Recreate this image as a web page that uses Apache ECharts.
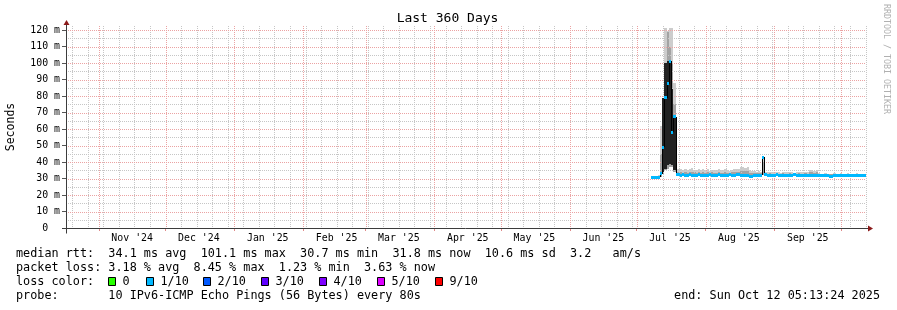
<!DOCTYPE html>
<html><head><meta charset="utf-8">
<script src="https://cdn.jsdelivr.net/npm/echarts@6/dist/echarts.min.js"></script>
<style>html,body{margin:0;padding:0;background:#fff}#c{width:897px;height:310px}</style>
</head><body><div id="c"></div>
<script>
// ---------------- data ----------------
const endTime = Date.UTC(2025, 9, 12, 5, 13, 24);
const DAY = 86400000;
const startTime = endTime - 360 * DAY;
const firstSample = Date.UTC(2025, 6, 7, 12); // one consolidated sample per day from Jul 7 2025

const median = [
  30.7, 30.7, 30.8, 30.9, 33.0, 49.0, 79.0, 87.5, 101.1, 58.0,
  67.5, 32.4, 32.2, 32.1, 32.2, 32.0, 32.1, 32.3, 32.1, 32.0,
  32.1, 32.2, 32.0, 32.1, 32.1, 32.0, 32.2, 32.1, 32.0, 32.1,
  32.2, 32.0, 32.1, 32.0, 32.1, 32.2, 32.0, 32.1, 32.3, 32.2,
  32.0, 32.1, 32.0, 32.1, 31.4, 31.5, 32.0, 32.1, 32.0, 32.0,
  43.0, 32.3, 32.1, 32.0, 32.1, 32.0, 32.2, 32.1, 32.0, 32.1,
  32.0, 32.1, 32.0, 32.0, 32.6, 32.0, 32.1, 32.0, 32.0, 32.1,
  32.0, 32.1, 32.0, 32.1, 32.0, 31.9, 31.9, 32.0, 31.9, 31.9,
  31.4, 31.5, 31.9, 32.0, 31.9, 31.9, 32.0, 31.9, 31.9, 31.9,
  32.0, 31.9, 31.9, 31.9, 32.0, 31.9, 31.9, 31.8
];
const smokeLow = [
  30.3, 30.3, 30.4, 30.5, 31.0, 33.0, 35.0, 36.0, 37.0, 37.0,
  34.0, 31.7, 31.5, 31.4, 31.5, 31.3, 31.4, 31.6, 31.4, 31.3,
  31.4, 31.5, 31.3, 31.4, 31.4, 31.3, 31.5, 31.4, 31.3, 31.4,
  31.5, 31.3, 31.4, 31.3, 31.4, 31.5, 31.3, 31.4, 31.6, 31.5,
  31.3, 31.4, 31.3, 31.4, 30.8, 30.9, 31.3, 31.4, 31.3, 31.3,
  32.0, 31.6, 31.4, 31.3, 31.4, 31.3, 31.5, 31.4, 31.3, 31.4,
  31.3, 31.4, 31.3, 31.3, 31.8, 31.3, 31.4, 31.3, 31.3, 31.4,
  31.3, 31.4, 31.3, 31.4, 31.3, 31.2, 31.2, 31.3, 31.2, 31.2,
  30.8, 30.9, 31.2, 31.3, 31.2, 31.2, 31.3, 31.2, 31.2, 31.2,
  31.3, 31.2, 31.2, 31.2, 31.3, 31.2, 31.2, 31.1
];
const smokeInner = [
  30.9, 30.9, 31.0, 31.3, 45.0, 60.0, 100.0, 119.0, 110.0, 100.0,
  75.0, 34.0, 33.8, 34.0, 33.6, 33.9, 33.5, 33.8, 34.2, 33.7,
  33.5, 33.9, 33.6, 34.0, 33.5, 33.7, 33.4, 33.7, 33.6, 33.5,
  33.8, 33.4, 33.6, 33.9, 33.5, 33.3, 33.7, 34.0, 34.0, 34.2,
  34.6, 34.8, 34.4, 34.5, 33.6, 33.3, 33.2, 33.1, 33.3, 33.2,
  40.0, 33.1, 33.0, 33.2, 32.9, 33.0, 33.2, 33.0, 32.9, 33.1,
  33.0, 32.9, 33.1, 33.0, 33.2, 33.0, 33.1, 32.9, 33.0, 33.1,
  33.0, 33.7, 33.9, 33.6, 33.8, 32.7, 32.6, 32.6, 32.7, 32.5,
  32.6, 32.6, 32.7, 32.6, 32.5, 32.7, 32.6, 32.6, 32.7, 32.5,
  32.6, 32.6, 32.7, 32.5, 32.6, 32.6, 32.5, 32.5
];
const smokeOuter = [
  31.2, 31.1, 31.4, 31.9, 62.0, 75.0, 121.0, 119.5, 121.5, 121.0,
  88.0, 36.0, 35.5, 36.0, 35.2, 35.8, 35.0, 35.6, 36.2, 35.4,
  35.0, 35.7, 35.3, 35.9, 35.1, 35.5, 34.8, 35.4, 35.2, 35.0,
  35.6, 34.9, 35.3, 35.8, 35.1, 34.7, 35.4, 35.9, 35.6, 36.0,
  36.9, 37.1, 36.6, 36.8, 35.0, 34.5, 34.3, 34.0, 34.4, 34.2,
  43.5, 34.0, 33.8, 34.1, 33.7, 33.9, 34.2, 33.8, 33.6, 34.0,
  33.9, 33.7, 34.1, 33.8, 33.6, 33.9, 34.0, 33.7, 33.8, 34.1,
  33.9, 35.0, 35.4, 34.8, 35.2, 33.2, 33.0, 32.9, 33.1, 32.8,
  33.0, 32.9, 33.3, 33.0, 32.8, 33.1, 33.0, 32.9, 33.2, 32.8,
  33.0, 32.9, 33.1, 32.8, 33.0, 32.9, 32.8, 32.9
];
// dense (dark) part of the smoke during the July spike, from sample index 5 on
const darkFirstIndex = 5;
const darkLow  = [34, 36, 38, 39, 38, 35];
const darkHigh = [79, 100, 101.5, 101.1, 84, 67.5];

const monthStarts = ['2024-11-01','2024-12-01','2025-01-01','2025-02-01','2025-03-01','2025-04-01',
                     '2025-05-01','2025-06-01','2025-07-01','2025-08-01','2025-09-01','2025-10-01'];
const monthLabelDates = ['2024-11-16','2024-12-16','2025-01-16','2025-02-16','2025-03-16','2025-04-16',
                         '2025-05-16','2025-06-16','2025-07-16','2025-08-16','2025-09-16'];
const monthLabels = ["Nov '24","Dec '24","Jan '25","Feb '25","Mar '25","Apr '25",
                     "May '25","Jun '25","Jul '25","Aug '25","Sep '25"];
const firstWeekLine = '2024-10-20';
const yMajor = [10,20,30,40,50,60,70,80,90,100,110,120];
const yMinor = [5,15,25,35,45,55,65,75,85,95,105,115];
const yTickValues = [0,10,20,30,40,50,60,70,80,90,100,110,120];

const titleText = 'Last 360 Days';
const yName = 'Seconds';
const watermark = 'RRDTOOL / TOBI OETIKER';
const legendLines = [
  'median rtt:  34.1 ms avg  101.1 ms max  30.7 ms min  31.8 ms now  10.6 ms sd  3.2   am/s',
  'packet loss: 3.18 % avg  8.45 % max  1.23 % min  3.63 % now',
  'loss color:',
  'probe:       10 IPv6-ICMP Echo Pings (56 Bytes) every 80s'
];
const endText = 'end: Sun Oct 12 05:13:24 2025';
const lossLabels = ['0','1/10','2/10','3/10','4/10','5/10','9/10'];
const lossColors = ['#26ff00','#00b8ff','#0059ff','#5e00ff','#7e00ff','#dd00ff','#ff0000'];

// ---------------- layout ----------------
const G = {left: 66, top: 26, width: 800, height: 202};
const Y_MAX = 202 / 1.65;
const MONO = 'DejaVu Sans Mono';
const LEGEND_FONT = '11.8px ' + MONO;
const lossBoxX = [108, 146, 203, 261, 319, 377, 435];
const legendY = [254, 268, 282, 296];

// ---------------- build ----------------
const ts = s => new Date(s).getTime();
const sampleTimes = median.map((_, i) => firstSample + i * DAY);
const monthStartTs = monthStarts.map(ts);
const monthLabelTs = monthLabelDates.map(ts);
const weekTs = [];
for (let t = ts(firstWeekLine); t <= endTime; t += 7 * DAY) weekTs.push(t);
function labelFor(v) {
  let best = -1, bd = Infinity;
  monthLabelTs.forEach((t, i) => { const d = Math.abs(t - v); if (d < bd) { bd = d; best = i; } });
  return bd < DAY ? monthLabels[best] : '';
}

function bandRender(color) {
  return function (params, api) {
    const t = api.value(0), lo = api.value(1), hi = api.value(2);
    if (isNaN(lo) || isNaN(hi)) return null;
    const a = api.coord([t, hi]), b = api.coord([Math.min(t + DAY, endTime), lo]);
    const x0 = Math.round(a[0]), x1 = Math.round(b[0]);
    const y0 = Math.round(a[1]), y1 = Math.round(b[1]);
    if (x1 <= x0) return null;
    return {type: 'rect', shape: {x: x0, y: y0, width: x1 - x0, height: Math.max(1, y1 - y0)},
            style: {fill: color}};
  };
}
function vLineRender(color) {
  return function (params, api) {
    const cs = params.coordSys;
    const x = Math.round(api.coord([api.value(0), 0])[0]) + 0.5;
    if (x > cs.x + cs.width + 1) return null;
    return {type: 'line', shape: {x1: x, y1: cs.y, x2: x, y2: cs.y + cs.height},
            style: {stroke: color, lineWidth: 1, lineDash: [1, 1]}};
  };
}
function hLineRender(color) {
  return function (params, api) {
    const cs = params.coordSys;
    const y = Math.round(api.coord([startTime, api.value(1)])[1]) + 0.5;
    return {type: 'line', shape: {x1: cs.x, y1: y, x2: cs.x + cs.width, y2: y},
            style: {stroke: color, lineWidth: 1, lineDash: [1, 1]}};
  };
}
function custom(name, data, render, z, clip) {
  return {type: 'custom', name, data, renderItem: render, z, silent: true, clip: clip !== false,
          encode: {x: 0, y: data.length && data[0].length > 2 ? [1, 2] : 1}, animation: false};
}

const outerData = sampleTimes.map((t, i) => [t, smokeLow[i], smokeOuter[i]]);
const innerData = sampleTimes.map((t, i) => [t, smokeLow[i], smokeInner[i]]);
const darkData = darkLow.map((lo, k) => [sampleTimes[darkFirstIndex + k], lo, darkHigh[k]]);
const stepData = sampleTimes.slice(1).map((t, k) => [t, median[k], median[k + 1]]);
const blueData = sampleTimes.map((t, i) => [t, median[i]]);

const GRID_MAJOR = '#eba3a3';
const GRID_MINOR = '#c6c6c6';

const series = [
  custom('smokeOuter', outerData, bandRender('#cdcdcd'), 1),
  custom('smokeInner', innerData, bandRender('#a3a3a3'), 2),
  custom('gridWeek', weekTs.map(t => [t, 0]), vLineRender(GRID_MINOR), 3, false),
  custom('gridYMinor', yMinor.map(v => [startTime, v]), hLineRender(GRID_MINOR), 3, false),
  custom('gridMonth', monthStartTs.map(t => [t, 0]), vLineRender(GRID_MAJOR), 4, false),
  custom('gridYMajor', yMajor.map(v => [startTime, v]), hLineRender(GRID_MAJOR), 4, false),
  custom('dark', darkData, bandRender('#222222'), 5),
  custom('medianStep', stepData, function (params, api) {
    const t = api.value(0);
    const a = api.coord([t, api.value(1)]), b = api.coord([t, api.value(2)]);
    if (Math.abs(a[1] - b[1]) < 2) return null;
    const x = Math.round(a[0]) + 0.5;
    return {type: 'line', shape: {x1: x, y1: Math.round(a[1]), x2: x, y2: Math.round(b[1])},
            style: {stroke: '#000', lineWidth: 1}};
  }, 6),
  custom('median', blueData, function (params, api) {
    const t = api.value(0), v = api.value(1);
    const a = api.coord([t, v]), b = api.coord([Math.min(t + DAY, endTime), v]);
    const x0 = Math.round(a[0]), x1 = Math.round(b[0]);
    if (x1 <= x0) return null;
    return {type: 'rect', shape: {x: x0, y: Math.round(a[1] - 1.5), width: x1 - x0, height: 3},
            style: {fill: lossColors[1]}};
  }, 7)
];

// graphic: axes, arrows, texts
const AX = '#3c3c3c', ARROW = '#8b1a1a';
const xL = G.left + 0.5, yB = G.top + G.height + 0.5;
const graphic = [
  {type: 'line', shape: {x1: xL, y1: yB + 5, x2: xL, y2: G.top - 3}, style: {stroke: AX, lineWidth: 1}, z: 100},
  {type: 'line', shape: {x1: G.left - 4, y1: yB, x2: G.left + G.width + 3, y2: yB}, style: {stroke: AX, lineWidth: 1}, z: 100},
  {type: 'polygon', shape: {points: [[xL - 3, G.top - 1], [xL + 3, G.top - 1], [xL, G.top - 6]]}, style: {fill: ARROW}, z: 101},
  {type: 'polygon', shape: {points: [[G.left + G.width + 2, yB - 3], [G.left + G.width + 2, yB + 3], [G.left + G.width + 7, yB]]}, style: {fill: ARROW}, z: 101},
  {type: 'text', x: 447.5, y: 19, style: {text: titleText, font: '13px ' + MONO, fill: '#000', align: 'center', verticalAlign: 'middle', textAlign: 'center', textVerticalAlign: 'middle'}, z: 100},
  {type: 'text', x: 11, y: 127, rotation: Math.PI / 2, style: {text: yName, font: '11.5px ' + MONO, fill: '#000', align: 'center', verticalAlign: 'middle', textAlign: 'center', textVerticalAlign: 'middle'}, z: 100},
  {type: 'text', x: 886, y: 59, rotation: -Math.PI / 2, style: {text: watermark, font: '8.3px ' + MONO, fill: '#b0b0b0', align: 'center', verticalAlign: 'middle', textAlign: 'center', textVerticalAlign: 'middle'}, z: 100},
  {type: 'text', x: 880, y: legendY[3], style: {text: endText, font: LEGEND_FONT, fill: '#000', align: 'right', verticalAlign: 'middle', textAlign: 'right', textVerticalAlign: 'middle'}, z: 100}
];
legendLines.forEach((s, i) => graphic.push({type: 'text', x: 16, y: legendY[i],
  style: {text: s, font: LEGEND_FONT, fill: '#000', align: 'left', verticalAlign: 'middle', textAlign: 'left', textVerticalAlign: 'middle'}, z: 100}));
lossLabels.forEach((s, i) => {
  graphic.push({type: 'rect', shape: {x: lossBoxX[i] + 0.5, y: legendY[2] - 4.5, width: 7, height: 8},
    style: {fill: lossColors[i], stroke: '#000', lineWidth: 1}, z: 100});
  graphic.push({type: 'text', x: lossBoxX[i] + 14.5, y: legendY[2],
    style: {text: s, font: LEGEND_FONT, fill: '#000', align: 'left', verticalAlign: 'middle', textAlign: 'left', textVerticalAlign: 'middle'}, z: 100});
});

const chart = echarts.init(document.getElementById('c'), null, {renderer: 'canvas'});
chart.setOption({
  animation: false,
  backgroundColor: '#fff',
  grid: Object.assign({outerBoundsMode: 'none', containLabel: false}, G),
  xAxis: {
    type: 'value', min: startTime, max: endTime, scale: true,
    axisLine: {show: false}, splitLine: {show: false},
    axisTick: {show: true, customValues: monthStartTs, length: 3, lineStyle: {color: '#e08a8a'}},
    axisLabel: {customValues: monthLabelTs, formatter: v => labelFor(v), fontFamily: MONO, fontSize: 9.9,
                color: '#000', margin: 5, hideOverlap: false, showMinLabel: true, showMaxLabel: true}
  },
  yAxis: {
    type: 'value', min: 0, max: Y_MAX,
    axisLine: {show: false}, splitLine: {show: false},
    axisTick: {show: true, customValues: yTickValues, length: 4, lineStyle: {color: '#555'}},
    axisLabel: {customValues: yTickValues, formatter: v => v === 0 ? '0  ' : v + ' m', fontFamily: MONO, fontSize: 9.9,
                color: '#000', margin: 6, showMaxLabel: true}
  },
  graphic,
  series
});
</script></body></html>
